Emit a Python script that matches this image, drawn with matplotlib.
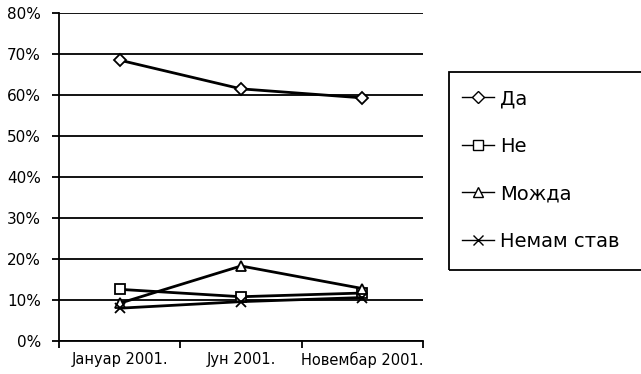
import matplotlib.pyplot as plt
from matplotlib.lines import Line2D
from matplotlib.patches import Rectangle

plt.rcParams['font.family'] = ['DejaVu Sans']

periods = ['Јануар 2001.', 'Јун 2001.', 'Новембар 2001.']
series_names = ['Да', 'Не', 'Можда', 'Немам став']
da = [68.5, 61.5, 59.3]
ne = [12.6, 10.8, 11.7]
mozda = [9.2, 18.3, 12.8]
nemam_stav = [8.0, 9.6, 10.6]
markers = ['D', 's', '^', 'x']
y_ticks = [0, 10, 20, 30, 40, 50, 60, 70, 80]

fig = plt.figure(figsize=(6.41, 3.74), dpi=100)
ax = fig.add_axes([59 / 641, 33 / 374, 364 / 641, 328 / 374])

x = range(len(periods))
for vals, m in zip([da, ne, mozda, nemam_stav], markers):
    size = 6.5 if m == 'D' else 7.5
    ax.plot(x, vals, color='black', lw=2, marker=m, ms=size,
            mfc='white', mec='black', mew=1.3, zorder=3)

ax.set_xlim(-0.5, 2.5)
ax.set_ylim(0, 80)
ax.set_yticks(y_ticks)
ax.set_yticklabels([f'{v}%' for v in y_ticks], fontsize=11)
ax.yaxis.grid(True, color='black', lw=1.3)
ax.set_axisbelow(True)

ax.set_xticks(list(x))
ax.set_xticklabels(periods, fontsize=10.5)
ax.tick_params(axis='x', length=0, pad=8)
ax.set_xticks([-0.5, 0.5, 1.5, 2.5], minor=True)
ax.tick_params(axis='x', which='minor', length=5, width=1.3, direction='out')
ax.tick_params(axis='y', length=5, width=1.3, pad=8)

for side in ['top', 'right']:
    ax.spines[side].set_visible(False)
ax.spines['left'].set_linewidth(1.3)
ax.spines['bottom'].set_linewidth(1.3)

# legend: thin handle lines, frame runs off the right edge
handles = [Line2D([], [], color='black', lw=1, marker=m, ms=6 if m == 'D' else 7,
                  mfc='white', mec='black', mew=1) for m in markers]
fig.patches.append(Rectangle((449 / 641, 1 - 270 / 374), 0.4, 198 / 374,
                             transform=fig.transFigure, fill=False,
                             ec='black', lw=1.3))
fig.legend(handles, series_names, loc='upper left',
           bbox_to_anchor=(462 / 641, 1 - 89 / 374),
           frameon=False, fontsize=14, handlelength=1.65,
           handletextpad=0.3, labelspacing=1.47, borderpad=0,
           borderaxespad=0)

fig.savefig('out.png', dpi=100)
